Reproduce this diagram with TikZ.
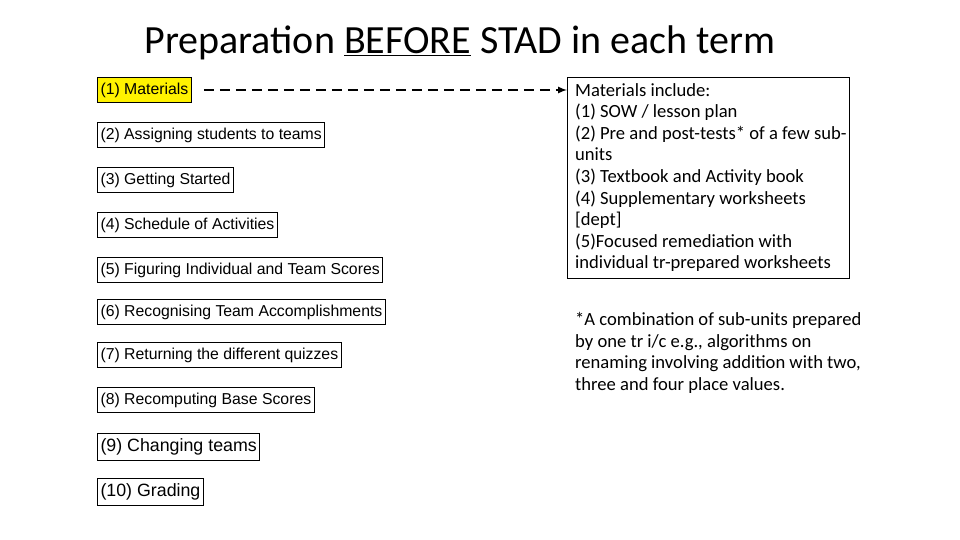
\documentclass[tikz,border=0pt]{standalone}
\usepackage{fontspec}
\setmainfont{Carlito}
\newfontfamily\arial{Liberation Sans}
\begin{document}
\begin{tikzpicture}[x=1pt,y=-1pt,
 lbox/.style={draw,line width=1pt,anchor=west,inner xsep=3pt,minimum height=25pt,font=\arial\fontsize{15.8}{17}\selectfont},
 bbox/.style={lbox,minimum height=27pt,font=\arial\fontsize{17.8}{19}\selectfont}]
\useasboundingbox (0,0) rectangle (960,540);
\node[font=\fontsize{40}{44}\selectfont] (t) at (460,43) {Preparation \underline{BEFORE} STAD in each term};
\node[lbox,fill=yellow] (a1) at (97,90) {(1) Materials};
\node[lbox] (a2) at (97,135) {(2) Assigning students to teams};
\node[lbox] (a3) at (97,180) {(3) Getting Started};
\node[lbox] (a4) at (97,225) {(4) Schedule of Activities};
\node[lbox] (a5) at (97,270) {(5) Figuring Individual and Team Scores};
\node[lbox] (a6) at (97,312) {(6) Recognising Team Accomplishments};
\node[lbox] (a7) at (97,355) {(7) Returning the different quizzes};
\node[lbox] (a8) at (97,400) {(8) Recomputing Base Scores};
\node[bbox] (a9) at (97,447) {(9) Changing teams};
\node[bbox] (a10) at (97,492) {(10) Grading};
\node[draw,line width=1pt,anchor=north west,minimum width=282pt,minimum height=201pt,inner sep=0pt] (m) at (567,77) {};
\node[anchor=north west,align=left,font=\fontsize{18.6}{21.6}\selectfont,inner sep=0pt] (mt) at (575,83) {Materials include:\\(1) SOW / lesson plan\\(2) Pre and post-tests* of a few sub-\\units\\(3) Textbook and Activity book\\(4) Supplementary worksheets\\{[dept]}\\(5)Focused remediation with\\individual tr-prepared worksheets};
\node[anchor=north west,align=left,font=\fontsize{18.6}{21.6}\selectfont,inner sep=0pt] (fn) at (575,312) {*A combination of sub-units prepared\\by one tr i/c e.g., algorithms on\\renaming involving addition with two,\\three and four place values.};
\draw[dashed,line width=2pt,dash pattern=on 10pt off 6pt,-latex] (a1.east)++(12,0) coordinate (s) -- (m.west|-s);
\end{tikzpicture}
\end{document}
